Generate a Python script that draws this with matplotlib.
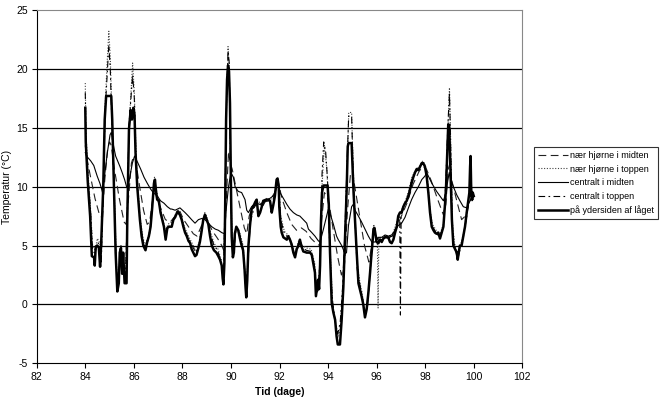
import numpy as np
import matplotlib
matplotlib.use("Agg")
import matplotlib.pyplot as plt

# (tid i dage, temperatur i °C)
ydersiden = [
    (84.00, 16.7), (84.02, 13.8), (84.10, 10.5), (84.20, 7.5), (84.27, 4.1), (84.36, 4.0), (84.39, 3.3),
    (84.43, 4.9), (84.50, 5.0), (84.56, 4.8), (84.61, 3.2), (84.66, 5.5), (84.74, 10.0), (84.80, 15.7),
    (84.86, 17.7), (85.07, 17.7), (85.11, 15.7), (85.18, 10.0), (85.25, 4.4), (85.32, 1.1), (85.38, 1.8),
    (85.42, 4.4), (85.47, 4.8), (85.52, 2.6), (85.56, 4.4), (85.62, 1.8), (85.70, 1.8), (85.73, 7.2),
    (85.80, 14.9), (85.87, 16.5), (85.92, 15.7), (85.98, 16.7), (86.03, 16.0), (86.07, 12.9), (86.14, 10.0),
    (86.25, 7.2), (86.32, 5.8), (86.39, 5.0), (86.48, 4.6), (86.55, 5.3), (86.62, 5.8), (86.69, 6.6),
    (86.76, 8.3), (86.83, 10.3), (86.87, 10.6), (86.91, 9.7), (86.96, 8.9), (87.03, 8.8), (87.10, 7.8),
    (87.17, 7.2), (87.24, 6.6), (87.31, 5.5), (87.38, 6.5), (87.46, 6.6), (87.56, 6.6), (87.63, 7.2),
    (87.70, 7.4), (87.80, 7.9), (87.90, 7.6), (87.97, 7.2), (88.04, 6.6), (88.11, 6.1), (88.18, 5.8),
    (88.25, 5.4), (88.32, 5.2), (88.38, 4.7), (88.45, 4.4), (88.52, 4.1), (88.58, 4.2), (88.66, 4.8),
    (88.72, 5.3), (88.79, 6.2), (88.86, 7.2), (88.93, 7.6), (89.00, 7.2), (89.07, 6.8), (89.14, 5.8),
    (89.21, 5.0), (89.30, 4.6), (89.40, 4.4), (89.48, 4.1), (89.55, 3.8), (89.62, 3.3), (89.66, 2.2),
    (89.69, 1.7), (89.73, 3.5), (89.76, 8.0), (89.80, 15.7), (89.84, 19.1), (89.88, 20.3), (89.92, 19.8),
    (89.96, 17.1), (90.00, 10.0), (90.03, 5.8), (90.08, 4.0), (90.12, 4.4), (90.16, 6.0), (90.22, 6.6),
    (90.30, 6.3), (90.37, 5.6), (90.44, 5.0), (90.50, 4.6), (90.56, 3.0), (90.60, 1.5), (90.63, 0.6),
    (90.67, 2.0), (90.72, 5.0), (90.78, 6.6), (90.85, 8.1), (90.92, 8.3), (91.00, 8.7), (91.06, 8.9),
    (91.13, 7.5), (91.20, 7.8), (91.27, 8.3), (91.33, 8.8), (91.45, 8.9), (91.55, 8.9), (91.61, 8.8),
    (91.68, 7.8), (91.74, 8.4), (91.81, 9.2), (91.88, 10.6), (91.92, 10.7), (91.97, 10.0), (91.99, 8.3),
    (92.05, 6.6), (92.09, 6.1), (92.16, 5.7), (92.30, 5.5), (92.36, 5.8), (92.43, 5.5), (92.50, 5.1),
    (92.57, 4.4), (92.64, 4.0), (92.71, 4.7), (92.78, 5.0), (92.84, 5.5), (92.91, 4.9), (92.98, 4.5),
    (93.12, 4.4), (93.26, 4.4), (93.33, 4.2), (93.39, 3.5), (93.46, 2.7), (93.50, 0.7), (93.54, 1.3),
    (93.59, 2.1), (93.63, 1.3), (93.67, 3.3), (93.71, 7.2), (93.75, 9.5), (93.81, 10.1), (93.98, 10.1),
    (94.03, 8.5), (94.08, 4.4), (94.15, 0.1), (94.22, -0.7), (94.29, -1.3), (94.35, -2.7), (94.40, -3.4),
    (94.49, -3.4), (94.56, -1.3), (94.63, 1.5), (94.70, 5.8), (94.77, 10.0), (94.81, 13.4), (94.84, 13.7),
    (94.97, 13.7), (95.01, 11.5), (95.05, 9.5), (95.08, 8.3), (95.11, 7.2), (95.18, 4.4), (95.25, 1.8),
    (95.32, 1.2), (95.38, 0.7), (95.45, 0.0), (95.52, -1.1), (95.59, -0.4), (95.66, 1.0), (95.73, 2.7),
    (95.77, 3.8), (95.82, 5.0), (95.87, 6.4), (95.91, 6.5), (95.95, 6.0), (96.00, 5.3), (96.07, 5.2),
    (96.14, 5.5), (96.21, 5.3), (96.28, 5.6), (96.35, 5.7), (96.48, 5.7), (96.55, 5.3), (96.62, 5.2),
    (96.69, 5.5), (96.76, 6.1), (96.83, 6.6), (96.89, 7.5), (96.96, 7.8), (97.03, 7.8), (97.10, 8.3),
    (97.17, 8.6), (97.24, 8.8), (97.31, 9.2), (97.38, 9.8), (97.44, 10.3), (97.51, 10.8), (97.58, 11.2),
    (97.65, 11.5), (97.72, 11.4), (97.79, 11.7), (97.86, 12.0), (97.92, 12.0), (97.99, 11.7), (98.06, 10.9),
    (98.13, 9.5), (98.20, 7.8), (98.27, 6.6), (98.34, 6.3), (98.40, 6.1), (98.47, 6.0), (98.54, 6.1),
    (98.61, 5.6), (98.68, 6.1), (98.75, 6.6), (98.82, 8.6), (98.86, 10.0), (98.91, 12.9), (98.95, 15.3),
    (98.99, 15.1), (99.02, 12.9), (99.06, 10.0), (99.10, 7.2), (99.16, 5.0), (99.23, 4.7), (99.30, 4.4),
    (99.34, 3.8), (99.38, 4.4), (99.43, 5.0), (99.50, 5.0), (99.57, 5.8), (99.64, 6.6), (99.71, 7.8),
    (99.78, 8.9), (99.82, 9.5), (99.85, 11.7), (99.87, 12.6), (99.90, 9.2), (99.93, 8.9), (99.96, 9.5),
    (100.00, 9.2),
]

centralt_midten = [
    (84.00, 12.9), (84.05, 12.6), (84.22, 12.2), (84.35, 11.8), (84.49, 10.9), (84.60, 10.3), (84.66, 9.9),
    (84.71, 9.5), (84.80, 11.0), (84.91, 12.9), (85.02, 14.4), (85.07, 14.6), (85.12, 14.0), (85.18, 13.3),
    (85.25, 12.6), (85.33, 12.2), (85.43, 11.7), (85.52, 11.2), (85.62, 10.6), (85.70, 10.0), (85.76, 9.9),
    (85.84, 10.9), (85.94, 12.0), (86.03, 12.6), (86.10, 12.3), (86.17, 12.0), (86.28, 11.5), (86.42, 10.8),
    (86.55, 10.3), (86.69, 9.8), (86.80, 9.5), (86.97, 9.2), (87.10, 8.8), (87.24, 8.6), (87.38, 8.3),
    (87.51, 8.1), (87.56, 8.1), (87.70, 8.0), (87.90, 8.2), (88.11, 7.8), (88.25, 7.5), (88.38, 7.2),
    (88.52, 6.9), (88.66, 7.2), (88.80, 7.3), (88.93, 7.2), (89.07, 6.9), (89.21, 6.6), (89.35, 6.4),
    (89.48, 6.3), (89.62, 6.1), (89.73, 6.0), (89.80, 8.0), (89.90, 10.0), (90.00, 11.2), (90.10, 10.8),
    (90.17, 10.0), (90.30, 9.6), (90.44, 9.5), (90.58, 8.9), (90.65, 8.0), (90.72, 7.8), (90.85, 8.3),
    (91.00, 8.6), (91.20, 8.5), (91.40, 8.8), (91.60, 9.0), (91.80, 9.3), (91.92, 10.4), (92.02, 9.5),
    (92.16, 9.0), (92.30, 8.5), (92.43, 8.1), (92.57, 7.8), (92.71, 7.6), (92.84, 7.5), (92.98, 7.2),
    (93.12, 6.9), (93.19, 6.4), (93.33, 6.1), (93.46, 5.8), (93.60, 5.4), (93.67, 5.3), (93.81, 6.4),
    (93.94, 7.5), (94.01, 8.1), (94.10, 7.6), (94.22, 6.8), (94.35, 5.8), (94.42, 5.5), (94.56, 5.0),
    (94.70, 4.3), (94.76, 4.4), (94.84, 6.7), (94.97, 8.3), (95.04, 8.5), (95.11, 8.0), (95.25, 7.5),
    (95.38, 7.0), (95.52, 6.4), (95.66, 5.8), (95.80, 5.3), (95.93, 5.3), (96.07, 5.7), (96.21, 5.7),
    (96.35, 5.9), (96.48, 5.8), (96.62, 5.9), (96.76, 6.3), (96.89, 6.7), (97.03, 6.9), (97.17, 7.4),
    (97.31, 8.2), (97.44, 8.9), (97.58, 9.5), (97.72, 10.0), (97.86, 10.6), (97.99, 10.9), (98.06, 11.2),
    (98.13, 10.9), (98.27, 10.3), (98.47, 9.6), (98.61, 9.2), (98.75, 8.8), (98.86, 9.5), (98.93, 10.5),
    (98.99, 11.2), (99.05, 10.6), (99.16, 10.0), (99.30, 9.3), (99.43, 8.8), (99.57, 8.3), (99.71, 8.2),
    (99.80, 8.6), (99.90, 9.0), (100.00, 9.2),
]

hjoerne_midten = [
    (84.00, 13.5), (84.05, 12.6), (84.20, 11.0), (84.40, 9.0), (84.60, 7.5), (84.70, 7.4), (84.80, 10.5),
    (84.92, 13.2), (85.00, 13.8), (85.07, 13.5), (85.20, 11.5), (85.40, 9.0), (85.60, 7.0), (85.68, 6.8),
    (85.78, 9.0), (85.90, 12.0), (85.98, 12.5), (86.07, 12.3), (86.20, 10.5), (86.40, 8.0), (86.55, 6.8),
    (86.65, 7.0), (86.78, 9.0), (86.87, 10.0), (86.95, 8.9), (87.10, 8.2), (87.30, 7.2), (87.50, 7.0),
    (87.70, 7.5), (87.90, 7.9), (88.05, 7.2), (88.25, 6.6), (88.45, 6.0), (88.60, 5.8), (88.75, 6.5),
    (88.93, 7.5), (89.05, 7.0), (89.25, 6.2), (89.45, 5.6), (89.62, 5.0), (89.72, 4.5), (89.80, 8.5),
    (89.90, 13.0), (89.97, 12.0), (90.05, 11.5), (90.20, 10.0), (90.40, 8.0), (90.55, 6.5), (90.65, 6.0),
    (90.75, 7.5), (90.90, 8.4), (91.10, 8.6), (91.35, 8.7), (91.60, 8.8), (91.80, 9.5), (91.95, 10.4),
    (92.10, 9.0), (92.30, 7.8), (92.50, 6.8), (92.70, 6.3), (92.90, 6.5), (93.10, 6.2), (93.30, 5.6),
    (93.50, 5.2), (93.65, 5.0), (93.75, 7.5), (93.85, 9.5), (93.95, 9.2), (94.05, 8.5), (94.20, 6.5),
    (94.40, 4.0), (94.55, 2.5), (94.68, 3.5), (94.80, 8.0), (94.92, 11.0), (95.00, 11.3), (95.10, 10.0),
    (95.30, 7.5), (95.50, 5.0), (95.68, 3.6), (95.80, 5.0), (95.90, 6.0), (96.05, 5.6), (96.30, 5.8),
    (96.50, 5.6), (96.75, 6.2), (97.00, 7.4), (97.25, 8.6), (97.50, 10.2), (97.75, 11.3), (97.90, 11.7),
    (98.05, 11.5), (98.25, 10.5), (98.50, 9.0), (98.75, 7.6), (98.85, 8.5), (98.95, 11.5), (99.02, 12.0),
    (99.10, 10.5), (99.30, 8.8), (99.50, 7.2), (99.65, 7.5), (99.80, 8.5), (99.92, 9.2), (100.00, 9.5),
]

hjoerne_toppen = [
    (84.00, 18.8), (84.03, 14.5), (84.12, 11.0), (84.22, 8.0), (84.30, 5.0), (84.40, 4.6), (84.50, 5.6),
    (84.60, 5.2), (84.66, 4.0), (84.74, 10.0), (84.82, 17.0), (84.90, 20.5), (84.97, 23.2), (85.03, 21.0),
    (85.10, 16.0), (85.18, 10.5), (85.26, 5.0), (85.32, 1.5), (85.40, 3.0), (85.47, 5.0), (85.55, 3.5),
    (85.65, 2.5), (85.72, 6.5), (85.80, 15.0), (85.88, 18.0), (85.95, 20.5), (86.02, 18.0), (86.08, 13.5),
    (86.15, 10.5), (86.25, 7.5), (86.35, 6.0), (86.45, 5.0), (86.55, 5.5), (86.65, 6.2), (86.76, 8.5),
    (86.85, 10.8), (86.92, 9.8), (87.00, 9.0), (87.10, 8.0), (87.20, 7.2), (87.31, 6.2), (87.40, 6.8),
    (87.55, 7.0), (87.70, 7.6), (87.85, 8.0), (87.97, 7.4), (88.10, 6.5), (88.25, 5.8), (88.40, 5.2),
    (88.55, 4.6), (88.68, 5.2), (88.80, 6.6), (88.92, 7.8), (89.00, 7.5), (89.15, 6.2), (89.30, 5.2),
    (89.45, 4.8), (89.60, 3.8), (89.69, 2.0), (89.75, 8.0), (89.82, 17.0), (89.88, 21.9), (89.93, 20.0),
    (89.98, 13.0), (90.03, 7.0), (90.10, 4.5), (90.20, 6.5), (90.35, 6.2), (90.50, 5.0), (90.58, 2.5),
    (90.63, 1.0), (90.70, 4.0), (90.80, 7.2), (90.95, 8.3), (91.10, 8.8), (91.30, 8.5), (91.45, 9.0),
    (91.60, 8.9), (91.75, 9.0), (91.90, 10.4), (91.97, 10.0), (92.05, 7.5), (92.20, 6.2), (92.40, 5.8),
    (92.55, 4.8), (92.65, 4.5), (92.80, 5.5), (92.95, 5.0), (93.10, 4.8), (93.30, 4.7), (93.45, 3.5),
    (93.52, 1.2), (93.60, 1.5), (93.68, 4.0), (93.75, 10.0), (93.85, 13.5), (93.95, 11.5), (94.03, 8.0),
    (94.10, 4.0), (94.18, 0.5), (94.25, -1.0), (94.35, -2.0), (94.42, -2.8), (94.50, -2.0), (94.60, 1.0),
    (94.70, 6.0), (94.78, 11.0), (94.85, 16.3), (94.97, 16.3), (95.03, 12.0), (95.10, 8.0), (95.20, 3.5),
    (95.30, 2.0), (95.40, 1.0), (95.52, -0.8), (95.62, 0.0), (95.72, 2.5), (95.82, 5.5), (95.88, 6.8),
    (95.95, 6.0), (96.03, 5.5), (96.06, -0.3), (96.09, 5.5), (96.20, 5.6), (96.35, 5.9), (96.50, 5.8),
    (96.65, 5.9), (96.80, 6.8), (96.95, 7.8), (97.10, 8.3), (97.30, 9.5), (97.45, 10.8), (97.60, 11.4),
    (97.75, 11.7), (97.90, 12.2), (98.00, 11.8), (98.10, 10.5), (98.20, 8.0), (98.30, 6.8), (98.45, 6.3),
    (98.60, 5.9), (98.75, 6.8), (98.85, 10.0), (98.93, 14.5), (99.00, 18.4), (99.06, 13.0), (99.12, 7.0),
    (99.20, 5.3), (99.34, 4.0), (99.45, 5.0), (99.58, 6.0), (99.70, 7.5), (99.80, 9.0), (99.87, 12.0),
    (99.93, 9.0), (100.00, 9.3),
]

centralt_toppen = [
    (84.00, 18.0), (84.03, 14.0), (84.12, 10.5), (84.22, 7.8), (84.30, 4.6), (84.40, 4.3), (84.50, 5.3),
    (84.60, 5.0), (84.66, 3.6), (84.74, 9.5), (84.82, 16.5), (84.90, 19.5), (84.97, 22.0), (85.03, 20.0),
    (85.10, 15.0), (85.18, 10.0), (85.26, 4.5), (85.32, 1.3), (85.40, 2.5), (85.47, 4.9), (85.55, 3.0),
    (85.65, 2.0), (85.72, 6.8), (85.80, 15.2), (85.88, 17.5), (85.95, 19.5), (86.02, 17.5), (86.08, 13.0),
    (86.15, 10.0), (86.25, 7.0), (86.35, 5.8), (86.45, 4.8), (86.55, 5.2), (86.65, 6.0), (86.76, 8.4),
    (86.85, 10.6), (86.92, 9.5), (87.00, 8.8), (87.10, 7.9), (87.20, 7.0), (87.31, 5.8), (87.40, 6.6),
    (87.55, 6.8), (87.70, 7.5), (87.85, 7.9), (87.97, 7.3), (88.10, 6.3), (88.25, 5.6), (88.40, 5.0),
    (88.55, 4.4), (88.68, 5.0), (88.80, 6.4), (88.92, 7.7), (89.00, 7.4), (89.15, 6.0), (89.30, 5.0),
    (89.45, 4.6), (89.60, 3.5), (89.69, 1.8), (89.75, 8.5), (89.82, 17.5), (89.88, 21.5), (89.93, 20.5),
    (89.98, 12.0), (90.03, 6.0), (90.10, 4.2), (90.20, 6.2), (90.35, 6.0), (90.50, 4.8), (90.58, 2.0),
    (90.63, 0.8), (90.70, 3.5), (90.80, 7.0), (90.95, 8.2), (91.10, 8.7), (91.30, 8.3), (91.45, 8.9),
    (91.60, 8.8), (91.75, 8.9), (91.90, 10.5), (91.97, 10.2), (92.05, 7.2), (92.20, 6.0), (92.40, 5.6),
    (92.55, 4.6), (92.65, 4.2), (92.80, 5.3), (92.95, 4.8), (93.10, 4.6), (93.30, 4.5), (93.45, 3.2),
    (93.52, 1.0), (93.60, 1.2), (93.68, 4.5), (93.75, 11.0), (93.82, 13.8), (93.90, 13.0), (93.98, 10.5),
    (94.05, 6.0), (94.12, 2.0), (94.20, 0.0), (94.30, -1.5), (94.40, -2.5), (94.50, -1.5), (94.60, 1.5),
    (94.70, 6.5), (94.78, 12.0), (94.85, 16.0), (94.97, 16.0), (95.03, 11.5), (95.10, 7.5), (95.20, 3.0),
    (95.30, 1.8), (95.40, 0.8), (95.52, -1.0), (95.62, -0.2), (95.72, 2.3), (95.82, 5.2), (95.88, 6.5),
    (95.95, 5.8), (96.10, 5.4), (96.20, 5.5), (96.35, 5.8), (96.50, 5.7), (96.65, 5.8), (96.80, 6.6),
    (96.95, 7.5), (96.98, -0.9), (97.01, 7.6), (97.10, 8.1), (97.30, 9.3), (97.45, 10.6), (97.60, 11.2),
    (97.75, 11.6), (97.90, 12.0), (98.00, 11.6), (98.10, 10.2), (98.20, 7.8), (98.30, 6.6), (98.45, 6.1),
    (98.60, 5.7), (98.75, 6.6), (98.85, 10.5), (98.93, 15.0), (99.00, 18.0), (99.06, 12.5), (99.12, 6.5),
    (99.20, 5.0), (99.34, 3.8), (99.45, 4.8), (99.58, 5.8), (99.70, 7.3), (99.80, 8.8), (99.87, 11.5),
    (99.93, 8.8), (100.00, 9.0),
]

plt.rcParams['font.family'] = ['Liberation Sans', 'DejaVu Sans']
plt.rcParams['axes.unicode_minus'] = False

fig = plt.figure(figsize=(6.64, 4.04), dpi=100)
ax = fig.add_axes([0.0553, 0.1007, 0.7313, 0.8745])

for y in [0, 5, 10, 15, 20]:
    ax.axhline(y, color='black', lw=0.9, zorder=1)

serier = [
    (hjoerne_midten, 'nær hjørne i midten', (0, (7, 4)), 0.8, '#222222'),
    (hjoerne_toppen, 'nær hjørne i toppen', (0, (1, 1.5)), 0.8, '#444444'),
    (centralt_midten, 'centralt i midten', '-', 0.8, 'black'),
    (centralt_toppen, 'centralt i toppen', (0, (6, 3, 1.5, 3)), 0.8, 'black'),
    (ydersiden, 'på ydersiden af låget', '-', 1.8, 'black'),
]
for data, navn, ls, lw, farve in serier:
    d = np.array(data)
    ax.plot(d[:, 0], d[:, 1], color=farve, ls=ls, lw=lw, label=navn, zorder=2)

ax.set_xlim(82, 102)
ax.set_ylim(-5, 25)
ax.set_xticks(np.arange(82, 103, 2))
ax.set_yticks(np.arange(-5, 26, 5))
ax.tick_params(direction='out', length=3.5, width=0.8, labelsize=7.5, pad=3)
for s in ['top', 'right']:
    ax.spines[s].set_color('#888888')
for s in ['left', 'bottom']:
    ax.spines[s].set_color('black')

ax.set_xlabel('Tid (dage)', fontsize=7.5, fontweight='bold', labelpad=3)
ax.set_ylabel('Temperatur (°C)', fontsize=7.5)
ax.yaxis.set_label_coords(-0.05, 0.5)

leg = ax.legend(loc='upper left', bbox_to_anchor=(0.804, 0.636), bbox_transform=fig.transFigure,
                fontsize=6.5, frameon=True, fancybox=False, edgecolor='black', handlelength=3.3,
                handletextpad=0.3, labelspacing=0.5, borderpad=0.45, borderaxespad=0)
leg.get_frame().set_linewidth(0.8)

fig.savefig('out.png', dpi=100)
